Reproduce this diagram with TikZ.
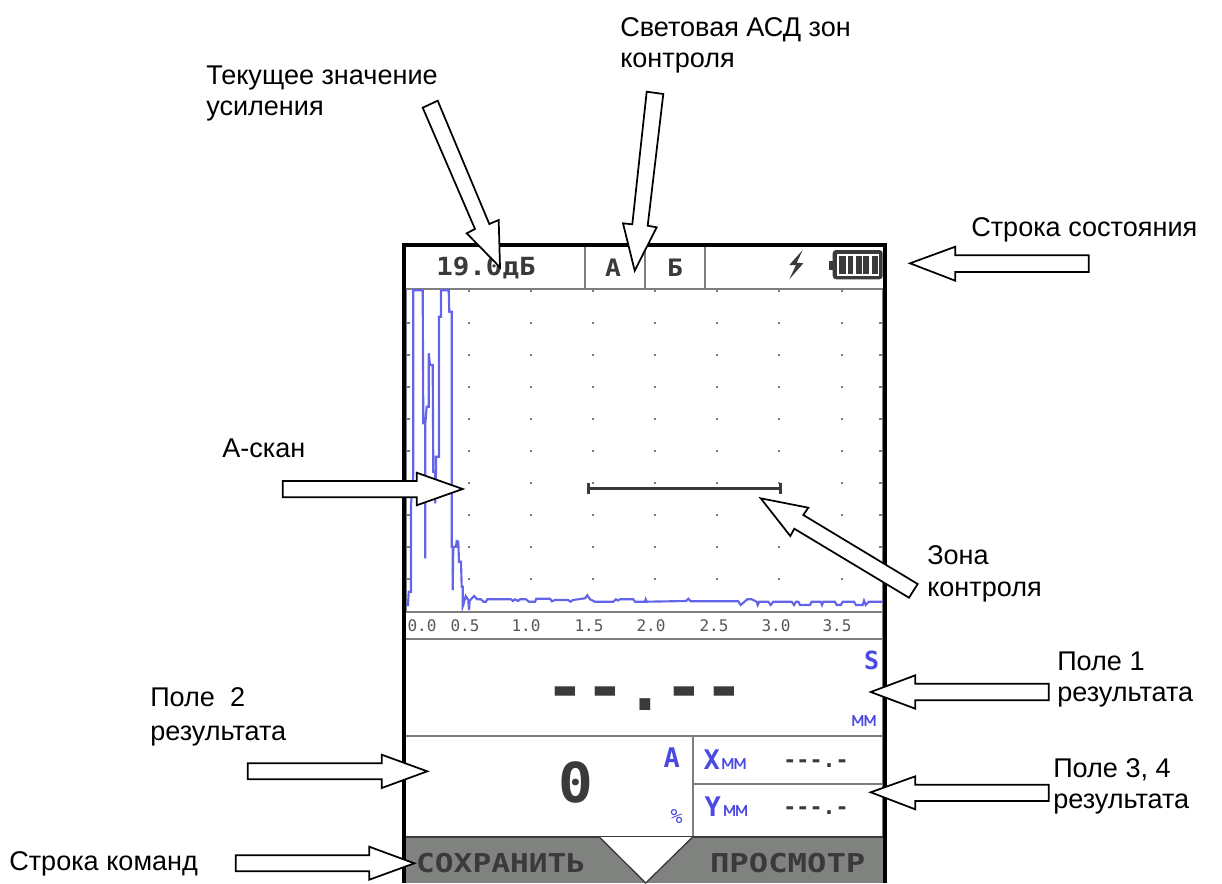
\documentclass[tikz,border=0pt]{standalone}
\usepackage{fontspec}
\usepackage{graphicx}
\setmainfont{Liberation Sans}
\newfontfamily\scr{DejaVu Sans Mono}
\newcommand{\scrsz}[1]{\fontsize{\dimexpr#1pt*3/4\relax}{\dimexpr#1pt\relax}\selectfont}
\definecolor{scrtext}{HTML}{3A3A3A}
\definecolor{scrblue}{HTML}{4A4AE0}
\definecolor{trace}{HTML}{6464E8}
\definecolor{scrline}{HTML}{7E7E7E}
\definecolor{barfill}{HTML}{7F827E}
\tikzset{
  lbl/.style={anchor=west,inner sep=0pt,align=left,font=\fontsize{20.3}{23.6}\selectfont},
  blockarrow/.style={draw=black,fill=white,line width=1.3pt,line join=miter,miter limit=10},
  sep/.style={draw=scrline,line width=1.1pt},
  gridmark/.style={draw=scrline,line width=1.1pt},
  griddot/.style={fill=scrline},
  scrlbl/.style={inner sep=0pt,text=scrtext},
  bluelbl/.style={inner sep=0pt,text=scrblue},
  axislbl/.style={inner sep=0pt,text=scrtext!85,font=\scr\scrsz{16}},
}
\begin{document}
\begin{tikzpicture}[x=0.75pt,y=-0.75pt]
\useasboundingbox (0,0) rectangle (1222,883);
% separators
\draw[sep] (405,289) -- (884,289);
\draw[sep] (585,245) -- (585,289);
\draw[sep] (645,245) -- (645,289);
\draw[sep] (705,245) -- (705,289);
\draw[sep] (405,612) -- (884,612);
\draw[sep] (405,639) -- (884,639);
\draw[sep] (405,736) -- (884,736);
\draw[sep] (693,736) -- (693,836);
\draw[sep] (693,784) -- (884,784);
\draw[sep] (406.5,289) -- (406.5,612);
\draw[sep] (883,289) -- (883,836);
% grid
\foreach \gy in {323,355,387,419,451,483,515,547,579}{
  \draw[gridmark] (406,\gy) -- (410,\gy);
  \draw[gridmark] (879,\gy) -- (883,\gy);
  \foreach \gx in {469,531,593,655,717,779,842}{
    \fill[griddot] (\gx-1,\gy-1) rectangle (\gx+1,\gy+1);
  }
}
\foreach \gx in {469,531,593,655,717,779,842}{
  \draw[gridmark] (\gx,289) -- (\gx,292);
}
% trace
\draw[trace,line width=1.6pt,line join=miter]
 (405.3,605)--(408,605)--(408.7,591.7)--(411,591.7)--(411,505)--(413.3,475)--(413.3,290.3)--(422.7,290.3)--(423.3,423.3)--(425.3,423.3)--(425.3,558.3)--(425.3,423.3)--(426.7,406.7)--(428.7,406.7)--(428.7,353.3)--(430,365)--(432.7,365)--(433.3,471.7)--(435.3,471.7)--(435.3,503.3)--(436,471.7)--(436,456.7)--(439,456.7)--(439,316.7)--(441,316.7)--(441,290.3)--(448.7,290.3)--(449.3,311.7)--(451.7,311.7)--(451.7,546.7)--(452.7,546.7)--(452.7,590)--(453.3,546.7)--(456,546.7)--(456.7,541)--(458.3,541.7)--(459,561.7)--(461,561.7)--(461.7,586.7)--(462.7,586.7)--(462.7,606.7)--(463.3,605)--(465.7,596)--(468.3,600)--(469,610)--(469.7,600.7)--(474,596)--(477.3,599.3)--(481,599.3)--(483.3,601.7)--(486,601.7)--(487.3,599.3)--(511,599.3)--(513,601)--(515,599.3)--(518,601)--(520,599.3)--(526,599.3)--(529,601.7)--(535,601.7)--(536.3,598.7)--(550,598.7)--(552,601.3)--(555,600)--(568,600)--(570.5,601.7)--(573,600)--(585,598.3)--(587.3,595.3)--(590,599.3)--(595,601.7)--(613.3,601.7)--(616,599.3)--(618,600.5)--(620,599.3)--(633.3,599.3)--(635,601.7)--(645,601.7)--(645.7,599.3)--(646.7,601.7)--(686,601)--(688.3,598.7)--(690.7,601.3)--(738.3,601.3)--(740.7,605)--(743.3,602.7)--(747.3,599.3)--(751.7,599.3)--(756.7,601.7)--(757.7,605)--(759.3,601.7)--(768.3,601.7)--(770.7,605)--(773.3,601.7)--(791.7,601.7)--(794,605)--(796,601.7)--(798.3,601.7)--(800,605)--(810,605)--(811.7,601.7)--(820.7,601.7)--(822,605)--(823.3,601.7)--(835,601.7)--(836.7,605)--(840.7,605)--(842.7,601.7)--(854,601.7)--(856,605)--(862.7,605)--(864,600.7)--(865.7,605)--(869,601.7)--(883.3,601.7);
% zone gate
\draw[draw=scrtext,line width=2.5pt] (588.3,488.3) -- (780.7,488.3);
\draw[draw=scrtext,line width=2.5pt] (588.3,483) -- (588.3,494);
\draw[draw=scrtext,line width=2.5pt] (780.7,483) -- (780.7,494);
% axis labels
\node[axislbl] (ax0) at (422,626) {0.0};
\node[axislbl] (ax1) at (465,626) {0.5};
\node[axislbl] (ax2) at (526,626) {1.0};
\node[axislbl] (ax3) at (589,626) {1.5};
\node[axislbl] (ax4) at (651,626) {2.0};
\node[axislbl] (ax5) at (714,626) {2.5};
\node[axislbl] (ax6) at (776,626) {3.0};
\node[axislbl] (ax7) at (837,626) {3.5};
% status bar
\node[scrlbl,font=\scr\bfseries\scrsz{25}] (gain) at (486,268) {\scalebox{1.1}[1]{19.0дБ}};
\node[scrlbl,font=\scr\bfseries\scrsz{24}] (zoneA) at (613,268) {\scalebox{1.1}[1]{А}};
\node[scrlbl,font=\scr\bfseries\scrsz{24}] (zoneB) at (675,268) {\scalebox{1.1}[1]{Б}};
\fill[scrtext] (802.7,250)--(789.3,265)--(796,265)--(789.3,279.3)--(803.3,263.3)--(796.7,262.7)--cycle;
\fill[scrtext] (829,260.7) rectangle (834,270);
\fill[scrtext,rounded corners=2.5pt] (832.7,250) rectangle (882.7,279.3);
\fill[white] (836.7,254) rectangle (879.3,276);
\foreach \ba/\bb in {839.3/845.7,847.7/853.3,855.7/861.7,863.3/869.3,871.7/877.7}{
  \fill[scrtext] (\ba,256) rectangle (\bb,274.3);
}
% result fields
\node[scrlbl,font=\scr\bfseries\scrsz{66},anchor=base] (res1) at (645,710) {\mbox{-}\mbox{-}.\mbox{-}\mbox{-}};
\node[bluelbl,font=\scr\bfseries\scrsz{25}] (resS) at (871.7,660.7) {S};
\node[bluelbl,font=\scr\scrsz{20}] (resmm) at (864,721) {мм};
\node[scrlbl,font=\scr\bfseries\scrsz{55}] (res2) at (576,782) {\scalebox{1.05}[1]{0}};
\node[bluelbl,font=\scr\bfseries\scrsz{27}] (resA) at (671.7,757.3) {А};
\node[bluelbl,font=\scr\scrsz{20}] (respc) at (676.7,816.7) {\%};
\node[bluelbl,font=\scr\bfseries\scrsz{27}] (resX) at (711.7,759.3) {X};
\node[bluelbl,font=\scr\scrsz{20}] (resXmm) at (734,764) {мм};
\node[bluelbl,font=\scr\bfseries\scrsz{27}] (resY) at (712.7,806.7) {Y};
\node[bluelbl,font=\scr\scrsz{20}] (resYmm) at (735.7,811) {мм};
\node[scrlbl,font=\scr\bfseries\scrsz{21.6},anchor=base] (valX) at (816,767) {\mbox{-}\mbox{-}\mbox{-}.\mbox{-}};
\node[scrlbl,font=\scr\bfseries\scrsz{21.6},anchor=base] (valY) at (816,814) {\mbox{-}\mbox{-}\mbox{-}.\mbox{-}};
% command bar
\fill[barfill] (405,837) rectangle (884,883);
\draw[draw=scrtext,line width=1.1pt] (405,837) -- (884,837);
\fill[white] (599.3,837) -- (692.7,837) -- (645.7,883) -- cycle;
\draw[draw=scrtext,line width=1pt] (599.3,837) -- (645.7,883) -- (692.7,837);
\node[scrlbl,font=\scr\bfseries\scrsz{26}] (cmdL) at (500.7,862.7) {\scalebox{1.2}[1]{СОХРАНИТЬ}};
\node[scrlbl,font=\scr\bfseries\scrsz{26}] (cmdR) at (787.7,862.7) {\scalebox{1.24}[1]{ПРОСМОТР}};
% frame
\draw[black,line width=2.7pt,line cap=butt] (403.8,883) -- (403.8,245) -- (885.2,245) -- (885.2,883);
% block arrows
\draw[blockarrow] (422.7,107.7)--(437.7,100.7)--(489.3,224)--(498.7,220)--(500,267.3)--(466.7,233.3)--(475,229)--cycle;
\draw[blockarrow] (646.7,91.7)--(663.3,94)--(647.7,225.7)--(656.7,227.3)--(634.7,270.7)--(623,223.3)--(632.3,224.3)--cycle;
\draw[blockarrow] (910,263.3)--(955.3,246.7)--(955.3,255.3)--(1088.7,255.3)--(1088.7,272)--(955.3,272)--(955.3,280.7)--cycle;
\draw[blockarrow] (282.7,481)--(416.7,481)--(416.7,472.7)--(462.7,489)--(416.7,505.3)--(416.7,497.3)--(282.7,497.3)--cycle;
\draw[blockarrow] (760.7,498.3)--(808.3,507.7)--(803.3,515)--(917.7,584)--(909,597.7)--(794.3,528.7)--(790.3,536)--cycle;
\draw[blockarrow] (870.7,692)--(915.3,675.3)--(915.3,683.7)--(1048.7,683.7)--(1048.7,700.3)--(915.3,700.3)--(915.3,708.7)--cycle;
\draw[blockarrow] (870.7,792.3)--(915.3,776.3)--(915.3,784.7)--(1048.7,784.7)--(1048.7,801)--(915.3,801)--(915.3,809.3)--cycle;
\draw[blockarrow] (247.7,763.3)--(381.7,763.3)--(381.7,754.7)--(427.3,771.3)--(381.7,788)--(381.7,779.3)--(247.7,779.3)--cycle;
\draw[blockarrow] (235.7,855.3)--(369.3,855.3)--(369.3,846.7)--(414.3,863.3)--(369.3,879.7)--(369.3,871.3)--(235.7,871.3)--cycle;
% labels
\node[lbl] (tGain) at (206,93.5) {Текущее значение\\усиления};
\node[lbl] (tAsd) at (620,45.4) {Световая АСД зон\\контроля};
\node[lbl,anchor=base west] (tStatus) at (971,236) {Строка состояния};
\node[lbl,anchor=base west] (tAscan) at (222,457) {А-скан};
\node[lbl] (tZone) at (927,573.7) {Зона\\контроля};
\node[lbl] (tF1) at (1057,679.6) {Поле 1\\результата};
\node[lbl] (tF2) at (150,717) {Поле\ \ 2\\[2pt]результата};
\node[lbl] (tF34) at (1053,786.4) {Поле 3, 4\\результата};
\node[lbl,anchor=base west] (tCmd) at (9,870) {Строка команд};
\end{tikzpicture}
\end{document}
